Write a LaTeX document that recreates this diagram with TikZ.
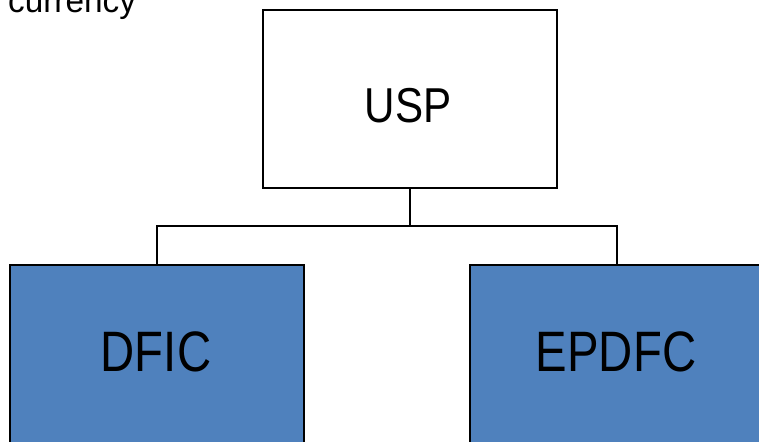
\documentclass[tikz,border=0pt]{standalone}
\usepackage{fontspec}
\setmainfont{Liberation Sans}
\definecolor{boxblue}{RGB}{79,129,189}
\begin{document}
\begin{tikzpicture}[x=1pt,y=-1pt,
  orgbox/.style={draw=black, line width=2pt, minimum width=294pt, inner sep=0pt},
  conn/.style={draw=black, line width=1.6pt},
  lbl/.style={font=\fontsize{49}{55}\selectfont, xscale=0.86}]
\useasboundingbox (0,0) rectangle (759,441);
\clip (0,0) rectangle (759,441);
\node[anchor=base west, font=\fontsize{34}{38}\selectfont, xscale=0.98, inner sep=0pt] (cur) at (8,13) {currency};
\node[orgbox, fill=white, minimum height=178pt] (usp) at (410,99) {};
\node[lbl] (usptext) at (408,106) {USP};
\node[orgbox, fill=boxblue, minimum height=250pt] (dfic) at (157,390) {};
\node[orgbox, fill=boxblue, minimum height=250pt] (epdfc) at (617,390) {};
\node[font=\fontsize{57}{62}\selectfont, xscale=0.83] (dfictext) at (156,352) {DFIC};
\node[font=\fontsize{57}{62}\selectfont, xscale=0.83] (epdfctext) at (616,352) {EPDFC};
\coordinate (mid) at (410,226);
\draw[conn] (usp.south) -- (mid);
\draw[conn] (dfic.north) |- (mid) -| (epdfc.north);
\end{tikzpicture}
\end{document}
